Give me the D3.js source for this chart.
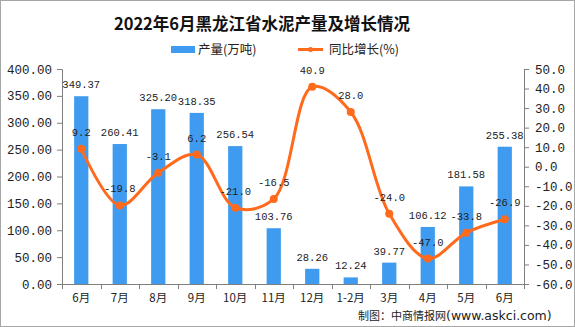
<!DOCTYPE html>
<html><head><meta charset="utf-8">
<script src="https://cdn.jsdelivr.net/npm/d3@7"></script>
<style>body{margin:0;background:#fff}svg{display:block}</style>
</head><body>
<svg id="c" width="575" height="327"></svg>
<script>
const categories = ["6月","7月","8月","9月","10月","11月","12月","1-2月","3月","4月","5月","6月"];
const output = [349.37,260.41,325.20,318.35,256.54,103.76,28.26,12.24,39.77,106.12,181.58,255.38];
const growth = [9.2,-19.8,-3.1,6.2,-21.0,-16.5,40.9,28.0,-24.0,-47.0,-33.8,-26.9];
const leftTicks = [0,50,100,150,200,250,300,350,400];
const rightTicks = [-60,-50,-40,-30,-20,-10,0,10,20,30,40,50];

const svg = d3.select("#c");
const W = 575, H = 327;
const m = {l:62, r:524, t:69, b:284};
const barColor = "#3F9BEF", lineColor = "#FF6A1C", axisColor = "#7f7f7f";
const mono = "'Liberation Mono','DejaVu Sans Mono',monospace";
const cjk = "'Noto Sans CJK SC','Liberation Mono',sans-serif";

svg.append("rect").attr("x",0.5).attr("y",0.5).attr("width",W-1).attr("height",H-1)
  .attr("fill","#fff").attr("stroke","#a6a6a6");

const x = d3.scaleBand().domain(d3.range(categories.length)).range([m.l,m.r]).paddingInner(0.63).paddingOuter(0.315);
const xb = d3.scaleBand().domain(d3.range(categories.length)).range([m.l,m.r]);
const yL = d3.scaleLinear().domain([0,400]).range([m.b,m.t]);
const yR = d3.scaleLinear().domain([-60,50]).range([m.b,m.t]);

// title
svg.append("text").attr("x",262).attr("y",30).attr("text-anchor","middle")
  .attr("font-family","'Noto Sans CJK SC',sans-serif").attr("font-weight","bold").attr("font-size",16.5)
  .attr("fill","#111").text("2022年6月黑龙江省水泥产量及增长情况");

// legend
svg.append("rect").attr("x",171).attr("y",46).attr("width",24).attr("height",7).attr("fill",barColor);
svg.append("text").attr("x",198).attr("y",54).attr("font-family",cjk).attr("font-size",12.5).attr("fill","#222").text("产量(万吨)");
svg.append("line").attr("x1",298).attr("x2",323).attr("y1",49.5).attr("y2",49.5).attr("stroke",lineColor).attr("stroke-width",3);
svg.append("circle").attr("cx",310.5).attr("cy",49.5).attr("r",2.5).attr("fill",lineColor);
svg.append("text").attr("x",329).attr("y",54).attr("font-family",cjk).attr("font-size",12.5).attr("fill","#222").text("同比增长(%)");

// axes
const gL = svg.append("g").attr("transform",`translate(${m.l},0)`)
  .call(d3.axisLeft(yL).tickValues(leftTicks).tickFormat(d3.format(".2f")).tickSizeOuter(0).tickSize(5).tickPadding(5));
const gR = svg.append("g").attr("transform",`translate(${m.r},0)`)
  .call(d3.axisRight(yR).tickValues(rightTicks).tickFormat(d3.format(".1f")).tickSizeOuter(0).tickSize(5).tickPadding(6));
[gL,gR].forEach(g=>{
  g.select(".domain").attr("stroke",axisColor);
  g.selectAll(".tick line").attr("stroke",axisColor);
  g.selectAll("text").attr("font-family",mono).attr("font-size",12.5).attr("fill","#222");
});
gR.selectAll("text").text(d=>d3.format(".1f")(d).replace("−","-"));

// x axis
const gx = svg.append("g");
gx.append("line").attr("x1",m.l).attr("x2",m.r).attr("y1",m.b+0.5).attr("y2",m.b+0.5).attr("stroke",axisColor);
gx.selectAll("line.t").data(d3.range(categories.length+1)).join("line").attr("class","t")
  .attr("x1",i=>Math.round(m.l+i*xb.step())+0.5).attr("x2",i=>Math.round(m.l+i*xb.step())+0.5)
  .attr("y1",m.b).attr("y2",m.b+5).attr("stroke",axisColor);
gx.selectAll("text").data(categories).join("text")
  .attr("x",(d,i)=>xb(i)+xb.bandwidth()/2).attr("y",302).attr("text-anchor","middle")
  .attr("font-family",cjk).attr("font-size",11.5).attr("fill","#222").text(d=>d);

// bars
svg.append("g").selectAll("rect").data(output).join("rect")
  .attr("x",(d,i)=>x(i)).attr("width",x.bandwidth())
  .attr("y",d=>yL(d)).attr("height",d=>yL(0)-yL(d)).attr("fill",barColor);
svg.append("g").selectAll("text").data(output).join("text")
  .attr("x",(d,i)=>x(i)+x.bandwidth()/2).attr("y",d=>yL(d)-8).attr("text-anchor","middle")
  .attr("font-family",mono).attr("font-size",10.5).attr("fill","#222").text(d=>d3.format(".2f")(d));

// line
const cx = i => xb(i)+xb.bandwidth()/2;
const line = d3.line().x((d,i)=>cx(i)).y(d=>yR(d)).curve(d3.curveCatmullRom.alpha(0.5));
svg.append("path").datum(growth).attr("d",line).attr("fill","none").attr("stroke",lineColor).attr("stroke-width",3);
svg.append("g").selectAll("circle").data(growth).join("circle")
  .attr("cx",(d,i)=>cx(i)).attr("cy",d=>yR(d)).attr("r",4).attr("fill",lineColor);
svg.append("g").selectAll("text").data(growth).join("text")
  .attr("x",(d,i)=>cx(i)).attr("y",d=>yR(d)-13).attr("text-anchor","middle")
  .attr("font-family",mono).attr("font-size",10.5).attr("fill","#222").text(d=>d3.format(".1f")(d).replace("−","-"));

// source
const src = svg.append("text").attr("x",358).attr("y",320).attr("font-family",cjk).attr("font-size",11).attr("fill","#222");
src.append("tspan").text("制图：中商情报网");
src.append("tspan").attr("font-family","'DejaVu Sans',sans-serif").attr("font-size",12.5).text("(www.askci.com)");
</script>
</body></html>
